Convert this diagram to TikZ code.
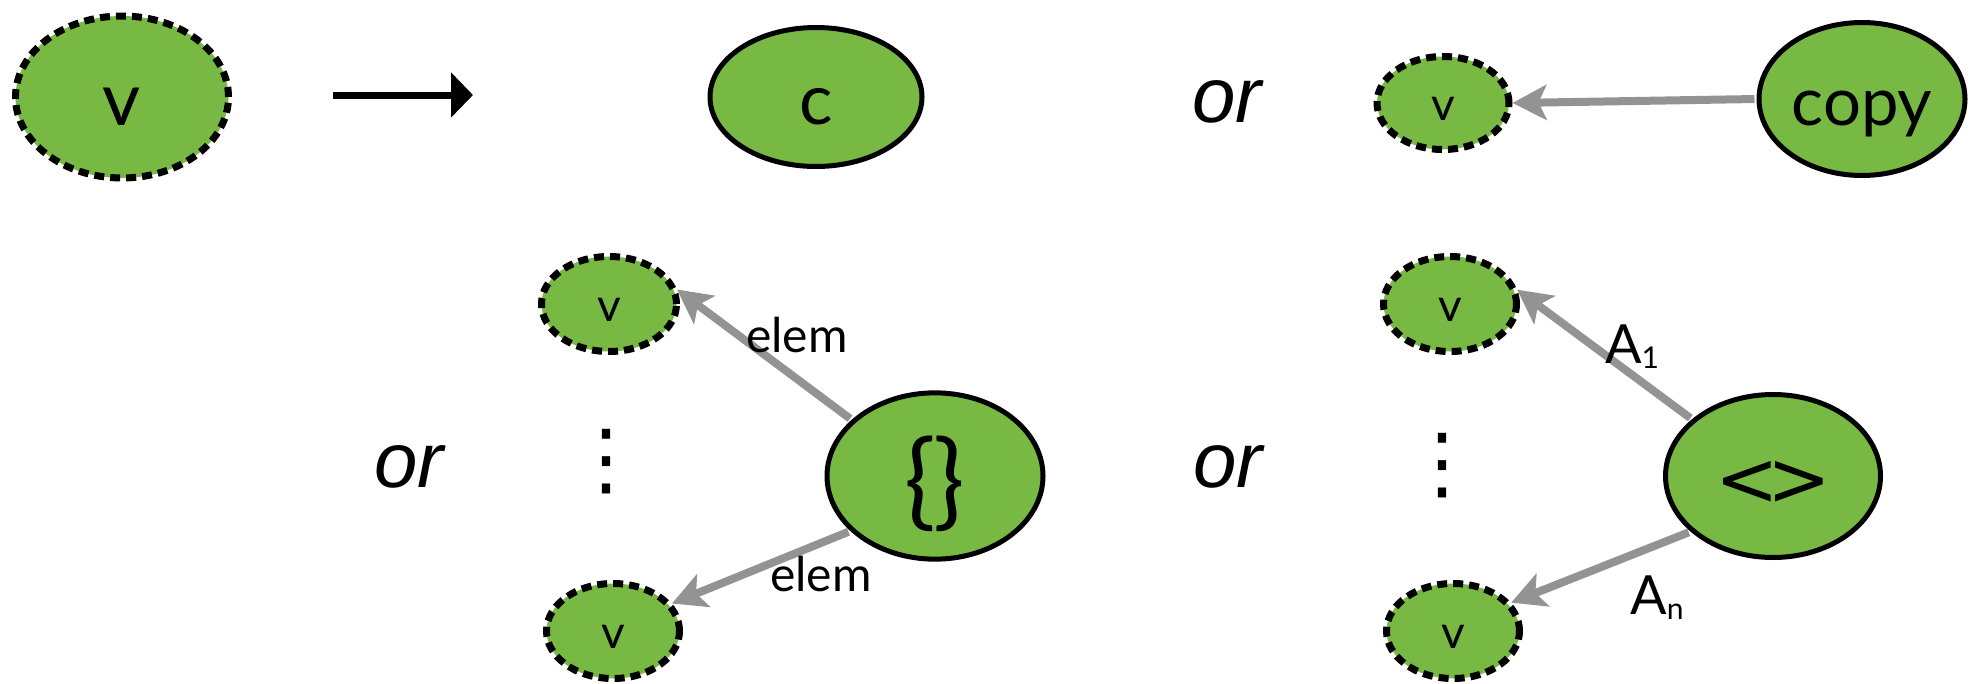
\documentclass[tikz,border=0pt]{standalone}
\usepackage{fontspec}
\setmainfont{Lato}
\newfontfamily\orfont{Liberation Sans}
\newfontfamily\dotsfont{DejaVu Sans}
\usetikzlibrary{arrows.meta,shapes.geometric}

\definecolor{valgreen}{RGB}{119,185,67}
\definecolor{edgegray}{RGB}{147,147,147}

% small lowered index for the field labels
\newcommand{\lowidx}[1]{{\fontsize{30}{30}\selectfont\raisebox{-5pt}{#1}}}

\begin{document}
\begin{tikzpicture}[
  x=1pt, y=-1pt,
  val/.style={
    ellipse,
    draw,
    fill=valgreen,
    inner sep=0pt,
    line width=5pt
    },
  hole/.style={
    val,
    line width=7pt,
    dash pattern=on 10pt off 6pt
    },
  oval/.style 2 args={minimum width=#1pt, minimum height=#2pt},
  txt/.style={
    font=\fontsize{#1}{#1}\selectfont,
    text height=0.95*#1pt,
    text depth=0.17*#1pt
    },
  word/.style={inner sep=0pt, font=\orfont\itshape\fontsize{78}{78}\selectfont},
  lbl/.style={inner sep=0pt, font=\fontsize{#1}{#1}\selectfont},
  dotcol/.style={inner sep=0pt, font=\dotsfont\fontsize{80}{80}\selectfont},
  childedge/.style={
    color=edgegray,
    line width=8pt,
    shorten <=2pt,
    -{Stealth[length=34pt,width=35pt,inset=8pt]}
    }
]
\useasboundingbox (0,0) rectangle (1974,683);

% top row: v  -->  c  or  copy
\node[hole, oval={213}{162}, txt=74] (vin) at (122,97) {v};
\coordinate (mapfrom) at (333,95);
\coordinate (mapto) at (473,95);
\draw[line width=7pt, -{Triangle[length=22pt,width=44pt]}] (mapfrom) -- (mapto);
\node[val, oval={212}{139}, txt=70] (cnst) at (816,97) {c};
\node[word] (or1) at (1227,102) {or};
\node[hole, oval={132}{93}, txt=46] (vcopy) at (1443,103) {v};
\node[val, oval={206}{153}, txt=67] (copy) at (1862,99) {copy};
\draw[childedge] (copy.west) -- (vcopy.east);

% set with its elements
\node[word] (or2) at (409,467) {or};
\node[hole, oval={135}{95}, txt=46] (elemtop) at (609,304) {v};
\node[dotcol] (elemdots) at (606,462) {⋮};
\node[hole, oval={133}{95}, txt=46] (elembot) at (613,631) {v};
\node[val, oval={216}{163}, txt=105] (set) at (935,476) {\{\kern-3pt\}};
\draw[childedge] (set.146) -- (elemtop.12);
\draw[childedge] (set.213) -- (elembot.25);
\node[lbl=48] (elemlbltop) at (797,335) {elem};
\node[lbl=48] (elemlblbot) at (821,574) {elem};

% tuple with its fields
\node[word] (or3) at (1228,467) {or};
\node[hole, oval={133}{95}, txt=46] (fieldtop) at (1450,304) {v};
\node[dotcol] (fielddots) at (1442,466) {⋮};
\node[hole, oval={133}{95}, txt=46] (fieldbot) at (1453,631) {v};
\node[val, oval={215}{163}, txt=76, font=\dotsfont\fontsize{76}{76}\selectfont] (tuple) at (1773,476) {<\kern-12pt>};
\draw[childedge] (tuple.145) -- (fieldtop.12);
\draw[childedge] (tuple.214) -- (fieldbot.26);
\node[lbl=54] (fieldlbltop) at (1632,347) {A\lowidx{1}};
\node[lbl=54] (fieldlblbot) at (1657,598) {A\lowidx{n}};

\end{tikzpicture}
\end{document}
